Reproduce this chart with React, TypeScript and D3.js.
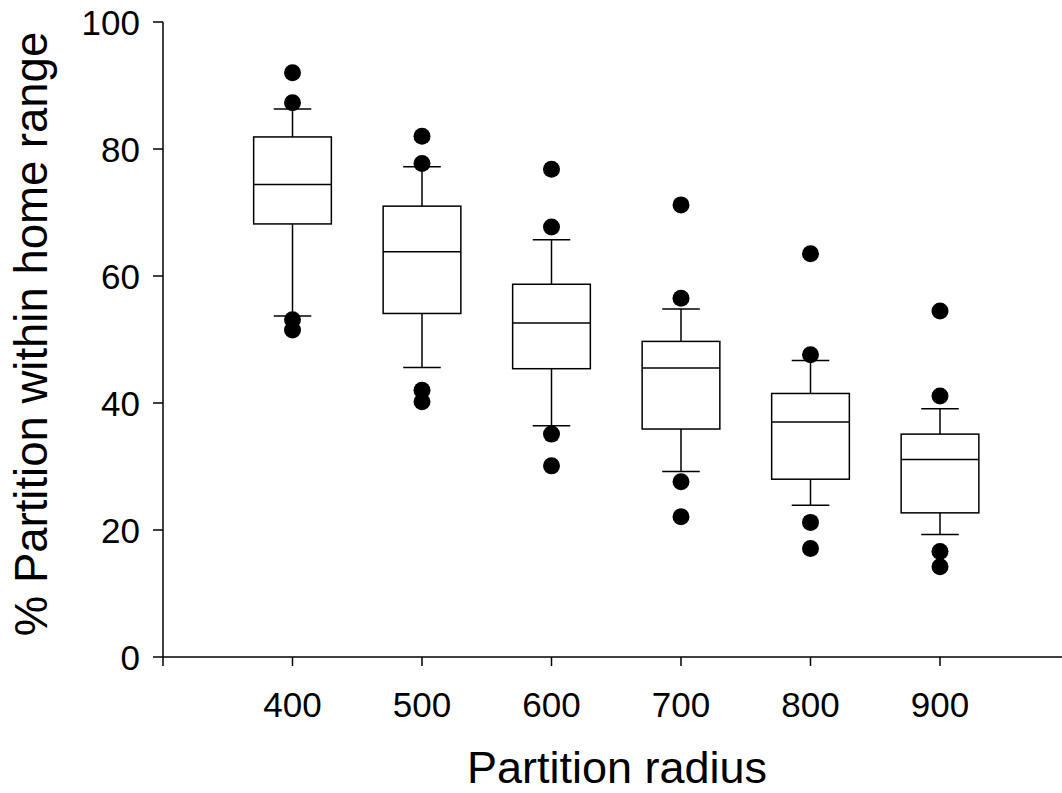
import React from "react";
import * as d3 from "d3";

const categories = [400, 500, 600, 700, 800, 900];
const whiskerLow = [53.7, 45.6, 36.4, 29.2, 23.9, 19.3];
const q1 = [68.2, 54.1, 45.4, 35.9, 28.0, 22.7];
const median = [74.4, 63.8, 52.6, 45.5, 37.0, 31.1];
const q3 = [81.9, 71.0, 58.7, 49.7, 41.5, 35.1];
const whiskerHigh = [86.3, 77.2, 65.7, 54.8, 46.7, 39.1];
const outliers = [
  [92.0, 87.3, 53.1, 51.5],
  [82.0, 77.7, 42.0, 40.2],
  [76.8, 67.7, 35.1, 30.1],
  [71.2, 56.5, 27.6, 22.1],
  [63.5, 47.6, 21.2, 17.1],
  [54.5, 41.1, 16.6, 14.2],
];
const xTicks = [300, 400, 500, 600, 700, 800, 900, 1000];
const xTickLabels = [400, 500, 600, 700, 800, 900];
const yTicks = [0, 20, 40, 60, 80, 100];

const W = 1062;
const H = 793;
const FONT = "'Liberation Sans', Arial, sans-serif";

export default function App() {
  const x = d3.scaleLinear().domain([300, 1000]).range([163, 1069.5]);
  const y = d3.scaleLinear().domain([0, 100]).range([657, 22]);
  const boxHalf = 30;
  const capHalf = 14.5;
  const sw = 1.5;

  return (
    <svg
      width={W}
      height={H}
      style={{ position: "absolute", left: 0, top: 0, background: "#fff" }}
      fontFamily={FONT}
    >
      <rect x={0} y={0} width={W} height={H} fill="#fff" />
      {/* axes */}
      <line x1={x(300)} x2={x(300)} y1={y(100)} y2={y(0)} stroke="#000" strokeWidth={sw} />
      <line x1={x(300)} x2={x(1000)} y1={y(0)} y2={y(0)} stroke="#000" strokeWidth={sw} />
      {yTicks.map((t) => (
        <g key={"yt" + t}>
          <line x1={x(300) - 10} x2={x(300)} y1={y(t)} y2={y(t)} stroke="#000" strokeWidth={sw} />
          <text x={140} y={y(t)} dy="0.36em" textAnchor="end" fontSize={35} fill="#000">
            {t}
          </text>
        </g>
      ))}
      {xTicks.map((t) => (
        <line key={"xt" + t} x1={x(t)} x2={x(t)} y1={y(0)} y2={y(0) + 9} stroke="#000" strokeWidth={sw} />
      ))}
      {xTickLabels.map((t) => (
        <text key={"xl" + t} x={x(t)} y={717} textAnchor="middle" fontSize={35} fill="#000">
          {t}
        </text>
      ))}
      {/* boxes */}
      {categories.map((c, i) => {
        const cx = x(c);
        const bl = x(c - boxHalf);
        const br = x(c + boxHalf);
        const cl = x(c - capHalf);
        const cr = x(c + capHalf);
        return (
          <g key={"b" + c}>
            <line x1={cx} x2={cx} y1={y(q3[i])} y2={y(whiskerHigh[i])} stroke="#000" strokeWidth={sw} />
            <line x1={cx} x2={cx} y1={y(q1[i])} y2={y(whiskerLow[i])} stroke="#000" strokeWidth={sw} />
            <line x1={cl} x2={cr} y1={y(whiskerHigh[i])} y2={y(whiskerHigh[i])} stroke="#000" strokeWidth={sw} />
            <line x1={cl} x2={cr} y1={y(whiskerLow[i])} y2={y(whiskerLow[i])} stroke="#000" strokeWidth={sw} />
            <rect
              x={bl}
              y={y(q3[i])}
              width={br - bl}
              height={y(q1[i]) - y(q3[i])}
              fill="#fff"
              stroke="#000"
              strokeWidth={sw}
            />
            <line x1={bl} x2={br} y1={y(median[i])} y2={y(median[i])} stroke="#000" strokeWidth={sw} />
            {outliers[i].map((v, j) => (
              <circle key={j} cx={cx} cy={y(v)} r={8.5} fill="#000" />
            ))}
          </g>
        );
      })}
      {/* titles */}
      <text x={617} y={783} textAnchor="middle" fontSize={45} fill="#000">
        Partition radius
      </text>
      <text
        transform={`translate(47, ${334}) rotate(-90)`}
        textAnchor="middle"
        fontSize={45.5}
        fill="#000"
      >
        % Partition within home range
      </text>
    </svg>
  );
}
